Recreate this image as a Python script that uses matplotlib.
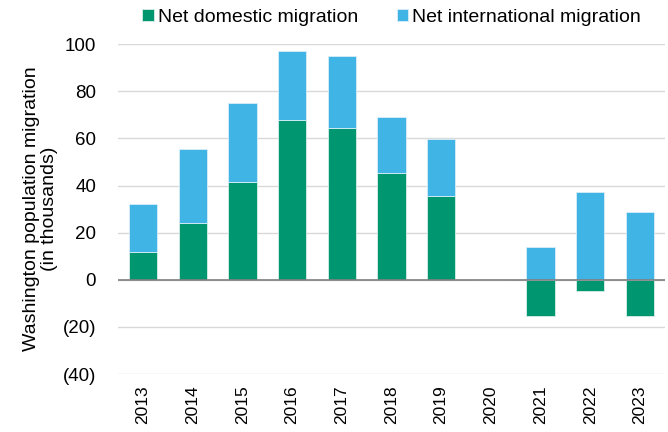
import numpy as np
import matplotlib.pyplot as plt

plt.rcParams["font.family"] = ["Liberation Sans", "DejaVu Sans"]

years = ["2013", "2014", "2015", "2016", "2017", "2018", "2019", "2020", "2021", "2022", "2023"]
domestic = [12, 24.3, 41.7, 67.7, 64.3, 45.1, 35.7, 0, -15.3, -4.7, -15.3]
international = [20, 31, 33.2, 29.3, 30.6, 23.8, 23.9, 0, 14.0, 37.4, 28.9]

green = "#009670"
blue = "#41B4E6"

dom = np.array(domestic)
intl = np.array(international)
# international stacks on top of domestic only when domestic is positive
base = np.where(dom > 0, dom, 0)

fig = plt.figure(figsize=(6.68, 4.32), dpi=100)
ax = fig.add_axes([0.177, 0.134, 0.818, 0.764])

x = np.arange(len(years))
w = 0.57
ax.bar(x, dom, w, color=green, edgecolor="#d8eee8", linewidth=0.6,
       label="Net domestic migration", zorder=3)
ax.bar(x, intl, w, bottom=base, color=blue, edgecolor="#d8eef8", linewidth=0.6,
       label="Net international migration", zorder=3)

ax.set_ylim(-40, 100)
ax.set_xlim(-0.5, len(years) - 0.5)
ticks = np.arange(-40, 101, 20)
ax.set_yticks(ticks)
ax.set_yticklabels([f"({-t})" if t < 0 else str(t) for t in ticks], fontsize=13.5)
ax.set_xticks(x)
ax.set_xticklabels(years, rotation=90, fontsize=12.5)
ax.tick_params(length=0, pad=8)
ax.tick_params(axis="y", pad=16)

ax.grid(axis="y", color="#d9d9d9", linewidth=1, zorder=0)
ax.axhline(0, color="#808080", linewidth=1.2, zorder=4)
for s in ax.spines.values():
    s.set_visible(False)

ax.set_ylabel("Washington population migration\n(in thousands)", fontsize=14,
              linespacing=1.1, labelpad=3)

ax.legend(loc="lower center", bbox_to_anchor=(0.5, 1.0), ncol=2, frameon=False,
          fontsize=14, handlelength=0.6, handleheight=0.6, handletextpad=0.2,
          columnspacing=2.0, borderaxespad=0.55)

fig.savefig("out.png", dpi=100)
